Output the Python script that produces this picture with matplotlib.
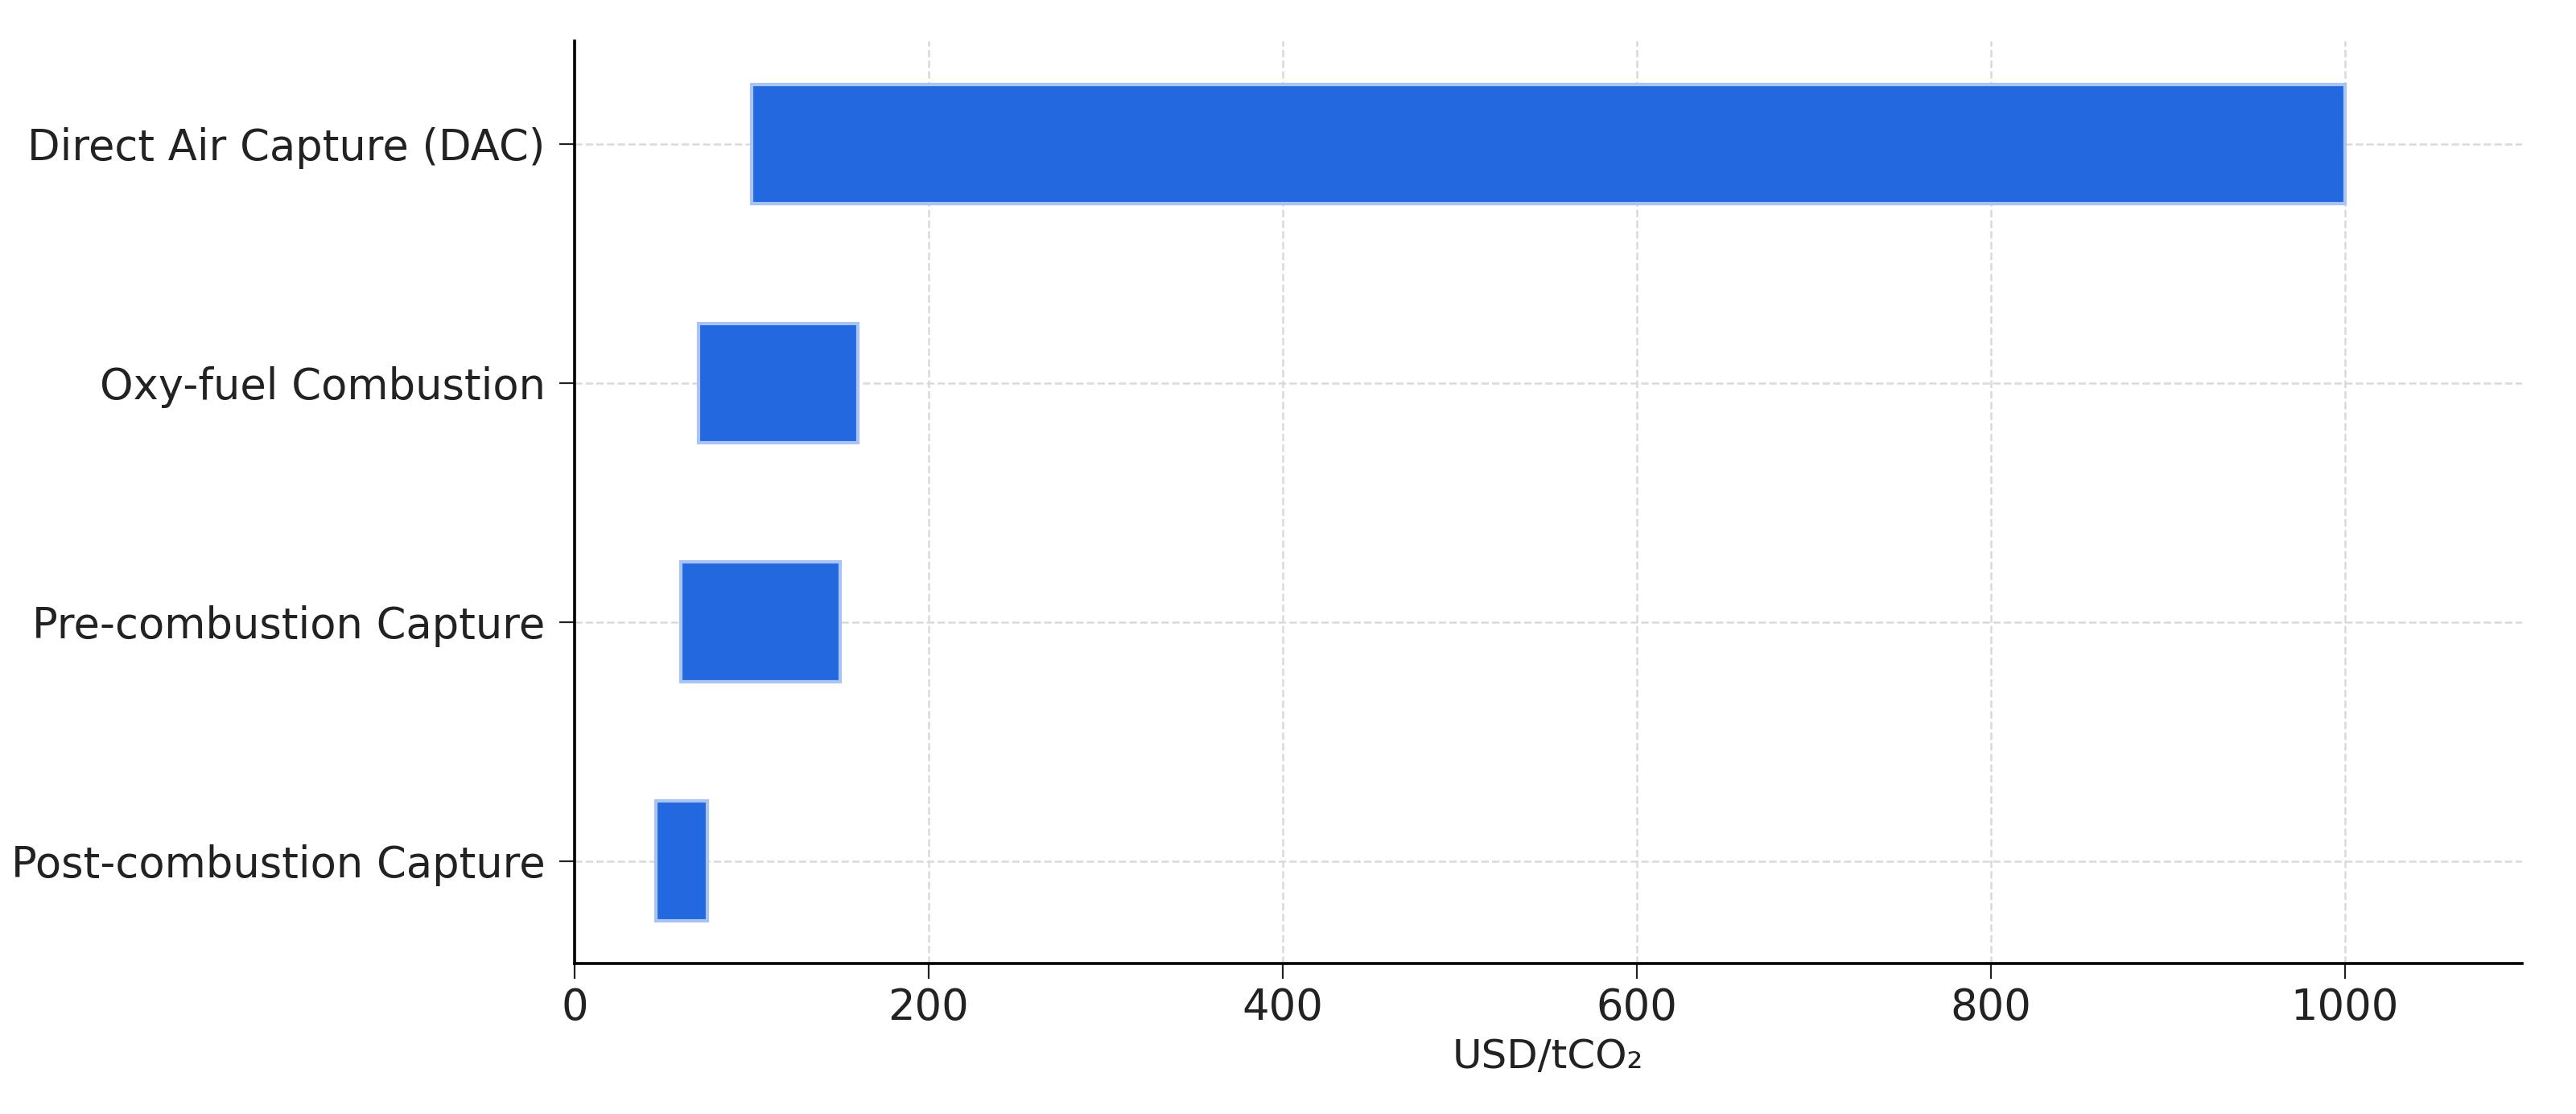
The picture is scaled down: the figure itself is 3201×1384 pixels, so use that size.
import matplotlib.pyplot as plt

# capture technologies and cost ranges (USD/tCO2)
categories = ['Post-combustion Capture', 'Pre-combustion Capture',
              'Oxy-fuel Combustion', 'Direct Air Capture (DAC)']
cost_low = [46, 60, 70, 100]
cost_high = [75, 150, 160, 1000]
x_ticks = [0, 200, 400, 600, 800, 1000]

fig = plt.figure(figsize=(16.005, 6.92), dpi=200)
ax = fig.add_axes([0.223, 0.135, 0.756, 0.828])

widths = [h - l for l, h in zip(cost_low, cost_high)]
ax.barh(categories, widths, left=cost_low, height=0.5,
        color='#2468e0', edgecolor='#a9c4f2', linewidth=1.5, zorder=3)

ax.set_xlim(0, 1100)
ax.set_ylim(-0.43, 3.43)
ax.set_xticks(x_ticks)
ax.set_xlabel('USD/tCO₂', fontsize=18, color='#222222')
ax.tick_params(axis='both', labelsize=19, colors='#222222', length=7)
ax.tick_params(axis='y', pad=6)
ax.grid(True, linestyle='--', color='#dadada', linewidth=0.9, zorder=0)
for s in ['top', 'right']:
    ax.spines[s].set_visible(False)
for s in ['left', 'bottom']:
    ax.spines[s].set_linewidth(1.3)

fig.savefig('out.png', dpi=200, facecolor='white')
